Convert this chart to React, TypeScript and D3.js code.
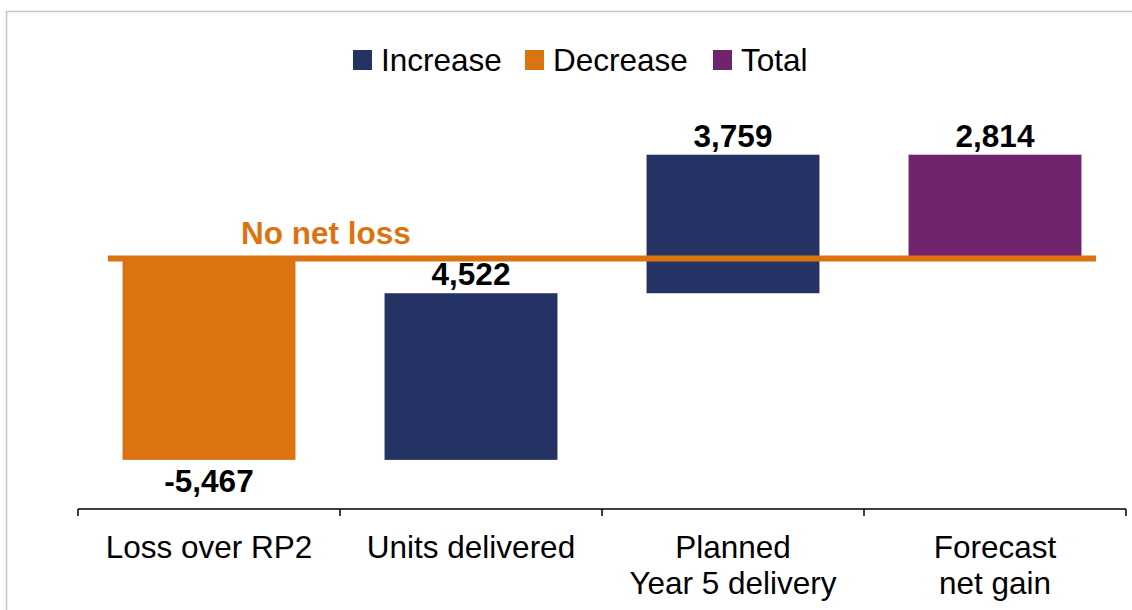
import React from "react";
import * as d3 from "d3";

// chart data
const categories = ["Loss over RP2", "Units delivered", "Planned Year 5 delivery", "Forecast net gain"];
const categoryLines = [["Loss over RP2"], ["Units delivered"], ["Planned", "Year 5 delivery"], ["Forecast", "net gain"]];
const changes = [-5467, 4522, 3759];
const legendLabels = ["Increase", "Decrease", "Total"];
const referenceLabel = "No net loss";

const COLORS: Record<string, string> = {
    Increase: "#253264",
    Decrease: "#DB7410",
    Total: "#70246E",
};

const FONT = "'Liberation Sans', Arial, sans-serif";
const FS = 31.5;

const App = () => {
    const width = 1132;
    const height = 610;

    // build the waterfall steps from the changes
    let running = 0;
    const steps = changes.map((v, i) => {
        const start = running;
        running += v;
        return { cat: categories[i], start, end: running, value: v, kind: v < 0 ? "Decrease" : "Increase" };
    });
    steps.push({ cat: categories[3], start: 0, end: running, value: running, kind: "Total" });

    const x = d3.scaleBand().domain(categories).range([78, 1126]).padding(0);
    const y = d3.scaleLinear().domain([-6800, 4000]).range([509, 111]);
    const barW = x.bandwidth() * 0.66;
    // plain hyphen for negatives, like the original
    const fmt = d3.formatLocale({ decimal: ".", thousands: ",", grouping: [3], currency: ["", ""], minus: "-" }).format(",");

    const axisY = y(-6800);
    const tickXs = [...categories.map(c => x(c) as number), x.range()[1]];

    // legend layout
    const legendX = [353, 525, 713];

    return (
        <div style={{ position: "absolute", left: 0, top: 0 }}>
            <svg width={width} height={height} style={{ display: "block", background: "#fff" }}>
                {/* frame */}
                <path d={`M6.5,${height} V11.5 H${width}`} fill="none" stroke="#c8c8c8" strokeWidth={1.5} />

                {/* legend */}
                {legendLabels.map((l, i) => (
                    <g key={l} transform={`translate(${legendX[i]},0)`}>
                        <rect x={0} y={50} width={19} height={20} fill={COLORS[l]} />
                        <text x={28} y={71} fontFamily={FONT} fontSize={FS} fill="#000">{l}</text>
                    </g>
                ))}

                {/* bars */}
                {steps.map(s => {
                    const cx = (x(s.cat) as number) + x.bandwidth() / 2;
                    const top = y(Math.max(s.start, s.end));
                    const bot = y(Math.min(s.start, s.end));
                    return (
                        <g key={s.cat}>
                            <rect x={cx - barW / 2} y={top} width={barW} height={bot - top} fill={COLORS[s.kind]} />
                            <text
                                x={cx}
                                y={s.value < 0 ? bot + 32 : top - 8}
                                textAnchor="middle"
                                fontFamily={FONT}
                                fontWeight="bold"
                                fontSize={FS}
                                fill="#000"
                            >
                                {fmt(s.value)}
                            </text>
                        </g>
                    );
                })}

                {/* no net loss line */}
                <line x1={108} x2={1096} y1={y(0)} y2={y(0)} stroke="#DB7410" strokeWidth={6} />
                <text x={326} y={y(0) - 14} textAnchor="middle" fontFamily={FONT} fontWeight="bold" fontSize={FS} fill="#DB7410">
                    {referenceLabel}
                </text>

                {/* x axis */}
                <line x1={tickXs[0]} x2={tickXs[tickXs.length - 1]} y1={axisY} y2={axisY} stroke="#000" strokeWidth={1.5} />
                {tickXs.map((tx, i) => (
                    <line key={i} x1={tx} x2={tx} y1={axisY} y2={axisY + 7} stroke="#000" strokeWidth={1.5} />
                ))}
                {categories.map((c, i) => (
                    <text key={c} textAnchor="middle" fontFamily={FONT} fontSize={FS} fill="#000">
                        {categoryLines[i].map((ln, j) => (
                            <tspan key={j} x={(x(c) as number) + x.bandwidth() / 2} y={558 + j * 36}>{ln}</tspan>
                        ))}
                    </text>
                ))}
            </svg>
        </div>
    );
};

export default App;
